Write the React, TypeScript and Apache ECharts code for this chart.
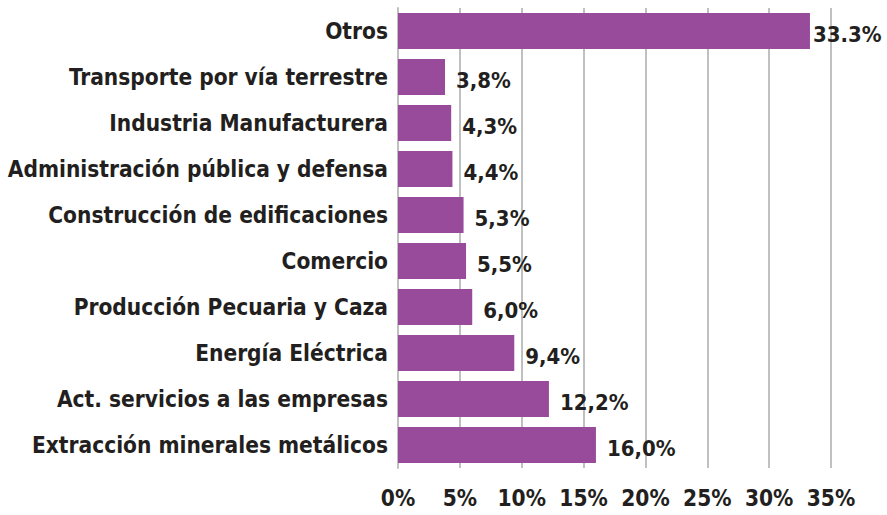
import React, { useEffect, useRef } from "react";
import * as echarts from "echarts";

const categories = [
  "Otros",
  "Transporte por vía terrestre",
  "Industria Manufacturera",
  "Administración pública y defensa",
  "Construcción de edificaciones",
  "Comercio",
  "Producción Pecuaria y Caza",
  "Energía Eléctrica",
  "Act. servicios a las empresas",
  "Extracción minerales metálicos",
];
const values = [33.3, 3.8, 4.3, 4.4, 5.3, 5.5, 6.0, 9.4, 12.2, 16.0];
const valueLabels = ["33.3%", "3,8%", "4,3%", "4,4%", "5,3%", "5,5%", "6,0%", "9,4%", "12,2%", "16,0%"];
const xTicks = [0, 5, 10, 15, 20, 25, 30, 35];

const FONT = "'DejaVu Sans Condensed', 'Open Sans', sans-serif";
const TEXT = "#231f20";
const BAR = "#984b9b";

export default function App() {
  const ref = useRef<HTMLDivElement>(null);
  useEffect(() => {
    document.body.style.margin = "0";
    const chart = echarts.init(ref.current!, null, { renderer: "svg" });
    chart.setOption({
      animation: false,
      grid: { left: 398, right: 56, top: 8, bottom: 47, containLabel: false },
      xAxis: {
        type: "value",
        min: xTicks[0],
        max: xTicks[xTicks.length - 1],
        interval: 5,
        axisLine: { show: false },
        axisTick: { show: false },
        splitLine: { show: true, lineStyle: { color: "#c0c0c0", width: 2 } },
        axisLabel: {
          formatter: (v: number) => `${v}%`,
          color: TEXT,
          fontFamily: FONT,
          fontWeight: "bold",
          fontSize: 22.5,
          margin: 18,
        },
      },
      yAxis: {
        type: "category",
        inverse: true,
        data: categories,
        axisLine: { show: true, lineStyle: { color: "#c0c0c0", width: 2 } },
        axisTick: { show: false },
        axisLabel: {
          color: TEXT,
          fontFamily: FONT,
          fontWeight: "bold",
          fontSize: 22.5,
          margin: 10,
        },
      },
      series: [
        {
          type: "bar",
          data: values.map((v, i) => ({
            value: v,
            label: { distance: i === 0 ? 3 : 11 },
          })),
          barWidth: 36,
          itemStyle: { color: BAR },
          label: {
            show: true,
            position: "right",
            formatter: (p: any) => valueLabels[p.dataIndex],
            color: TEXT,
            fontFamily: FONT,
            fontWeight: "bold",
            fontSize: 22,
            offset: [0, 3],
          },
        },
      ],
    });
    return () => chart.dispose();
  }, []);
  return <div ref={ref} style={{ width: 887, height: 515 }} />;
}
